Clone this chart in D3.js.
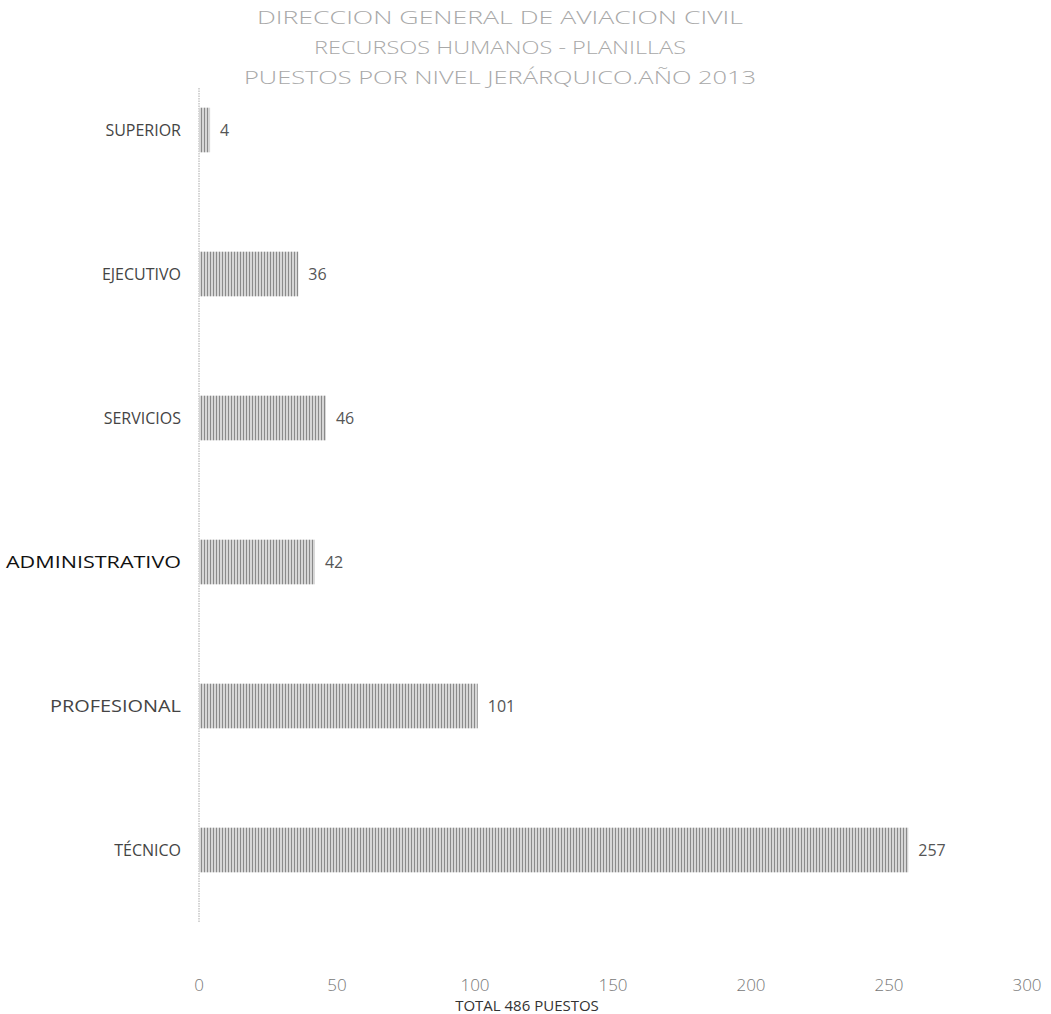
<!DOCTYPE html>
<html>
<head>
<meta charset="utf-8">
<script src="https://cdn.jsdelivr.net/npm/d3@7"></script>
<style>
  body { margin: 0; background: #fff; }
  svg { display: block; font-family: "Open Sans", "Liberation Sans", sans-serif; }
</style>
</head>
<body>
<svg id="grafico" width="1051" height="1014"></svg>
<script>
// dados
const CATEGORIAS = ['SUPERIOR', 'EJECUTIVO', 'SERVICIOS', 'ADMINISTRATIVO', 'PROFESIONAL', 'TÉCNICO'];
const VALORES = [4, 36, 46, 42, 101, 257];
const TICKS = [0, 50, 100, 150, 200, 250, 300];
const TITULO = [
  'DIRECCION GENERAL DE AVIACION CIVIL',
  'RECURSOS HUMANOS - PLANILLAS',
  'PUESTOS POR NIVEL JERÁRQUICO.AÑO 2013'
];
const RODAPE = 'TOTAL 486 PUESTOS';

const $svg = d3.select('#grafico');

const x = d3.scaleLinear().domain([0, 300]).range([199, 1027]);
const y = d3.scaleBand().domain(CATEGORIAS).range([58, 922]).paddingInner(0.69).paddingOuter(0.345);

// padrão de listras verticais (imitando a hachura do scan)
const defs = $svg.append('defs');
const pat = defs.append('pattern')
  .attr('id', 'listras')
  .attr('patternUnits', 'userSpaceOnUse')
  .attr('width', 3).attr('height', 3);
pat.append('rect').attr('width', 3).attr('height', 3).attr('fill', '#d6d6d6');
pat.append('rect').attr('x', 0).attr('width', 1).attr('height', 3).attr('fill', '#8a8a8a');

// título
$svg.append('g').selectAll('text')
  .data(TITULO)
  .enter().append('text')
  .attr('x', 500)
  .attr('y', (d, i) => 24 + i * 30)
  .attr('text-anchor', 'middle')
  .attr('fill', '#a8a8a8')
  .attr('font-size', 18)
  .attr('font-weight', 300)
  .attr('textLength', (d, i) => [486, 372, 512][i])
  .attr('lengthAdjust', 'spacingAndGlyphs')
  .text(d => d);

// eixo vertical
$svg.append('line')
  .attr('x1', x(0)).attr('x2', x(0))
  .attr('y1', 88).attr('y2', 922)
  .attr('stroke', '#aaa')
  .attr('stroke-dasharray', '1.5,1')
  .attr('stroke-width', 1);

// barras
const dados = CATEGORIAS.map((c, i) => ({ c, v: VALORES[i] }));

$svg.append('g').selectAll('rect')
  .data(dados)
  .enter().append('rect')
  .attr('x', x(0))
  .attr('y', d => y(d.c))
  .attr('width', d => x(d.v) - x(0))
  .attr('height', y.bandwidth())
  .attr('fill', 'url(#listras)');

// rótulos de valor
$svg.append('g').selectAll('text')
  .data(dados)
  .enter().append('text')
  .attr('x', d => x(d.v) + 10)
  .attr('y', d => y(d.c) + y.bandwidth() / 2)
  .attr('dy', '0.35em')
  .attr('fill', '#555')
  .attr('font-size', 16)
  .text(d => d.v);

// categorias
$svg.append('g').selectAll('text')
  .data(CATEGORIAS)
  .enter().append('text')
  .attr('x', 181)
  .attr('y', d => y(d) + y.bandwidth() / 2)
  .attr('dy', '0.35em')
  .attr('text-anchor', 'end')
  .attr('fill', d => d === 'ADMINISTRATIVO' ? '#111' : '#444')
  .attr('font-size', 16)
  .attr('textLength', d => d === 'ADMINISTRATIVO' ? 175 : (d === 'PROFESIONAL' ? 131 : null))
  .attr('lengthAdjust', 'spacingAndGlyphs')
  .text(d => d);

// ticks do eixo x
$svg.append('g').selectAll('text')
  .data(TICKS)
  .enter().append('text')
  .attr('x', d => x(d))
  .attr('y', 991)
  .attr('text-anchor', 'middle')
  .attr('fill', '#777')
  .attr('font-size', 17)
  .attr('font-weight', 300)
  .text(d => d);

// rodapé
$svg.append('text')
  .attr('x', 527)
  .attr('y', 1011)
  .attr('text-anchor', 'middle')
  .attr('fill', '#333')
  .attr('font-size', 15)
  .text(RODAPE);
</script>
</body>
</html>
